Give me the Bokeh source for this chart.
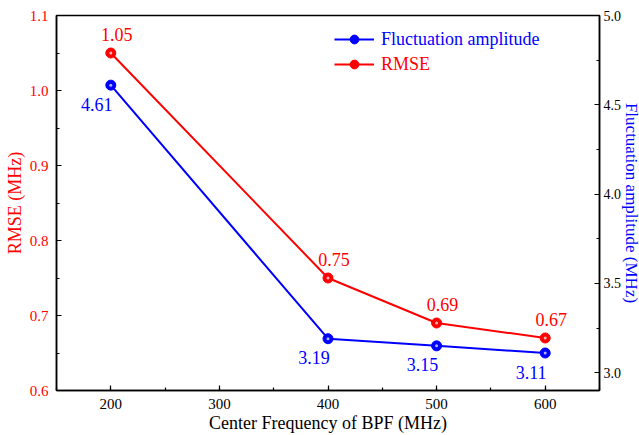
from bokeh.plotting import figure
from bokeh.models import (Range1d, LinearAxis, SingleIntervalTicker, PrintfTickFormatter,
                          Legend, LegendItem, ColumnDataSource, Title)
from bokeh.core.properties import value
from bokeh.embed import file_html
from bokeh.resources import INLINE

freq = [200, 400, 500, 600]
rmse = [1.05, 0.75, 0.69, 0.67]
fluct = [4.61, 3.19, 3.15, 3.11]
rmse_labels = ["1.05", "0.75", "0.69", "0.67"]
fluct_labels = ["4.61", "3.19", "3.15", "3.11"]

RED = "#FF0000"
BLUE = "#0000FF"
FONT = "Liberation Serif"

p = figure(width=639, height=435, output_backend="svg", toolbar_location=None,
           x_range=Range1d(150, 650), y_range=Range1d(0.6, 1.1),
           min_border_left=56, min_border_right=0, min_border_top=15, min_border_bottom=44,
           y_axis_location=None)
p.extra_y_ranges = {"fa": Range1d(2.9, 5.0)}
p.grid.visible = False
p.outline_line_color = "black"
p.outline_line_width = 1.5
p.background_fill_color = "white"
p.border_fill_color = "white"

def style(ax, color, label_color):
    ax.axis_line_width = 1.5
    ax.axis_line_color = "black"
    ax.major_tick_in = 5
    ax.major_tick_out = 0
    ax.minor_tick_in = 3
    ax.minor_tick_out = 0
    ax.major_tick_line_width = 1.2
    ax.minor_tick_line_width = 1.2
    ax.major_label_text_font = FONT
    ax.major_label_text_font_size = "15px"
    ax.major_label_text_color = color
    ax.axis_label_text_font = FONT
    ax.axis_label_text_font_size = "18px"
    ax.axis_label_text_font_style = "normal"
    ax.axis_label_text_color = label_color

# x axis
xa = p.xaxis[0]
xa.ticker = SingleIntervalTicker(interval=100, num_minor_ticks=2)
xa.axis_label = "Center Frequency of BPF (MHz)"
style(xa, "black", "black")
xa.major_label_standoff = 8
xa.axis_label_standoff = 1

# left axis
ya = LinearAxis(ticker=SingleIntervalTicker(interval=0.1, num_minor_ticks=2),
                formatter=PrintfTickFormatter(format="%.1f"), axis_label="RMSE (MHz)")
style(ya, RED, RED)
ya.major_label_standoff = 8
ya.axis_label_standoff = 2
p.add_layout(ya, "left")

# right axis, its title as a side Title
ra = LinearAxis(y_range_name="fa", ticker=SingleIntervalTicker(interval=0.5, num_minor_ticks=2),
                formatter=PrintfTickFormatter(format="%.1f"))
style(ra, "black", BLUE)
ra.major_label_text_font_size = "14px"
ra.major_label_standoff = 4
p.add_layout(ra, "right")

p.add_layout(Title(text="Fluctuation amplitude (MHz)", align="center", standoff=-6, offset=0,
                   text_font=FONT, text_font_size="17px", text_font_style="normal",
                   text_color=BLUE), "right")

src = ColumnDataSource(dict(x=freq, r=rmse, f=fluct, rl=rmse_labels, fl=fluct_labels))

rl = p.line("x", "r", source=src, line_color=RED, line_width=2)
rs = p.scatter("x", "r", source=src, size=10, fill_color=RED, line_color=RED)
p.scatter("x", "r", source=src, size=3, fill_color="white", line_color=None, fill_alpha=0.7)

fl = p.line("x", "f", source=src, line_color=BLUE, line_width=2, y_range_name="fa")
fs = p.scatter("x", "f", source=src, size=10, fill_color=BLUE, line_color=BLUE, y_range_name="fa")
p.scatter("x", "f", source=src, size=3, fill_color="white", line_color=None, fill_alpha=0.7,
          y_range_name="fa")

p.text("x", "r", text="rl", source=src, x_offset=6, y_offset=-19, text_align="center",
       text_baseline="middle", text_font=value(FONT), text_font_size="18px", text_color=RED)
p.text("x", "f", text="fl", source=src, x_offset=-14, y_offset=19, text_align="center",
       text_baseline="middle", text_font=value(FONT), text_font_size="18px", text_color=BLUE,
       y_range_name="fa")

def mk_legend(items, color, loc):
    lg = Legend(items=items, location=loc, padding=0, margin=0, spacing=0,
                border_line_color=None, background_fill_alpha=0,
                glyph_width=40, glyph_height=22, label_height=22, label_standoff=7,
                label_text_font=FONT, label_text_font_size="18px", label_text_color=color)
    return lg

p.add_layout(mk_legend([LegendItem(label="Fluctuation amplitude", renderers=[fl, fs])], BLUE, (278, 340)), "center")
p.add_layout(mk_legend([LegendItem(label="RMSE", renderers=[rl, rs])], RED, (278, 315)), "center")

open("out.html", "w").write(file_html(p, INLINE))
